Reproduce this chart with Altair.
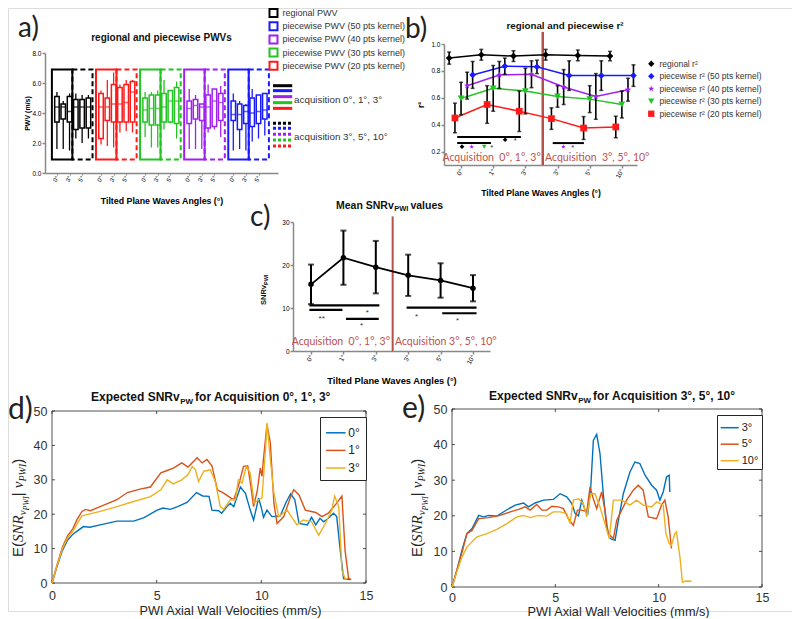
import altair as alt
import pandas as pd

FONT = "Liberation Sans"
SERIF = "Liberation Serif"
LAB = "Lato"
ACQ = "#c0504d"
SEP = "#b5504a"
INK = "#111111"
GREY = "#333333"
NB = "\u00a0"
VW, VH = 784, 603      # one view covering the page (page offset 8 px)
OFF = 8

ANGLES = ["0°", "1°", "3°", "3°", "5°", "10°"]

# ---------------- panel a : box plots ----------------
A_SERIES = ["regional PWV", "piecewise PWV (50 pts kernel)", "piecewise PWV (40 pts kernel)",
            "piecewise PWV (30 pts kernel)", "piecewise PWV (20 pts kernel)"]
A_COLORS = ["#000000", "#1a1aff", "#a020f0", "#22c322", "#ff1a1a"]
A_GROUPS = ["regional PWV", "piecewise PWV (20 pts kernel)", "piecewise PWV (30 pts kernel)",
            "piecewise PWV (40 pts kernel)", "piecewise PWV (50 pts kernel)"]
A_MIN = [[1.6, 1.6, 1.5, 2.3, 2.0, 2.3],
         [1.9, 1.8, 1.7, 2.7, 2.8, 2.7],
         [2.4, 1.7, 1.7, 2.9, 3.3, 2.3],
         [1.6, 1.6, 1.6, 2.7, 2.9, 2.4],
         [1.5, 1.6, 1.5, 2.1, 2.3, 2.5]]
A_Q1 = [[3.4, 3.6, 3.4, 2.9, 3.0, 3.0],
        [2.3, 3.5, 3.4, 3.4, 3.4, 3.4],
        [3.4, 3.2, 3.2, 3.4, 3.4, 3.3],
        [3.3, 3.6, 3.5, 3.0, 3.1, 3.5],
        [3.5, 2.9, 3.3, 3.1, 3.3, 3.6]]
A_MED = [[4.4, 4.4, 4.1, 4.4, 4.4, 4.4],
         [4.4, 4.4, 4.6, 4.6, 4.7, 5.4],
         [4.2, 4.3, 4.3, 4.4, 4.8, 4.8],
         [4.3, 4.5, 4.4, 4.4, 4.8, 4.7],
         [3.9, 3.9, 4.1, 4.0, 4.1, 4.2]]
A_Q3 = [[5.1, 4.6, 5.1, 4.9, 4.9, 5.0],
        [5.3, 5.0, 5.9, 5.7, 5.9, 6.1],
        [5.0, 5.2, 5.2, 5.3, 5.5, 5.7],
        [4.8, 4.9, 4.6, 5.2, 5.6, 5.3],
        [4.8, 4.6, 4.5, 5.0, 5.2, 5.3]]
A_MAX = [[5.4, 4.8, 5.3, 5.3, 5.2, 5.2],
         [5.5, 6.2, 6.7, 5.9, 6.2, 6.2],
         [5.4, 5.4, 5.5, 6.2, 5.5, 6.1],
         [5.6, 5.2, 4.6, 5.9, 5.6, 5.8],
         [5.3, 4.8, 4.6, 5.6, 5.2, 5.3]]
A_KEY_SOLID = [5.82, 5.49, 5.09, 4.69, 4.31]
A_KEY_DOTTED = [3.31, 2.98, 2.58, 2.20, 1.80]
A_KEY_TEXT = ["acquisition 0°, 1°, 3°", "acquisition 3°, 5°, 10°"]
A_KEY_TEXT_Y = [4.87, 2.42]

# ---------------- panel b : r2 ----------------
B_SERIES = ["regional r²", "piecewise r² (50 pts kernel)", "piecewise r² (40 pts kernel)",
            "piecewise r² (30 pts kernel)", "piecewise r² (20 pts kernel)"]
B_COLORS = ["#000000", "#1a1aff", "#a020f0", "#22c322", "#ff1a1a"]
STAR = "M0,-1L0.235,-0.324L0.951,-0.309L0.380,0.124L0.588,0.809L0,0.400L-0.588,0.809L-0.380,0.124L-0.951,-0.309L-0.235,-0.324Z"
B_SHAPES = ["diamond", "diamond", STAR, "triangle-down", "square"]
B_OFFSET = [-0.37, 0.36, 0.19, 0.0, -0.19]
B_MEAN = [[0.895, 0.92, 0.91, 0.92, 0.915, 0.91],
          [0.77, 0.835, 0.83, 0.765, 0.765, 0.765],
          [0.69, 0.77, 0.775, 0.68, 0.61, 0.66],
          [0.595, 0.67, 0.65, 0.61, 0.59, 0.55],
          [0.45, 0.55, 0.50, 0.445, 0.375, 0.383]]
B_ERR = [[0.045, 0.04, 0.04, 0.04, 0.04, 0.035],
         [0.10, 0.06, 0.05, 0.11, 0.11, 0.08],
         [0.10, 0.10, 0.10, 0.13, 0.17, 0.085],
         [0.12, 0.17, 0.17, 0.08, 0.10, 0.10],
         [0.11, 0.14, 0.15, 0.08, 0.085, 0.08]]
B_SIG_X0 = [-0.12, -0.12, 2.85]
B_SIG_X1 = [1.86, 0.93, 3.82]
B_SIG_Y = [0.308, 0.263, 0.263]
B_MARK_X = [0.03, 0.33, 0.72, 1.37, 3.18]
B_MARK_Y = [0.236, 0.236, 0.236, 0.288, 0.236]
B_MARK_S = [B_SERIES[0], B_SERIES[2], B_SERIES[3], B_SERIES[0], B_SERIES[2]]
B_STAR_X = [0.95, 1.68, 3.47]
B_STAR_Y = [0.245, 0.295, 0.245]

# ---------------- panel c : mean SNR ----------------
C_MEAN = [15.5, 21.7, 19.5, 17.6, 16.4, 14.6]
C_ERR = [4.6, 6.3, 6.1, 4.8, 4.0, 3.05]
C_SIG_X0 = [-0.05, -0.05, 1.08, 2.95, 4.05]
C_SIG_X1 = [2.11, 0.97, 2.09, 5.11, 5.11]
C_SIG_Y = [10.6, 9.56, 7.46, 10.1, 8.78]
C_STAR_X = [0.33, 1.74, 1.56, 3.26, 4.52]
C_STAR_Y = [8.0, 9.3, 6.2, 8.4, 7.4]
C_STAR_T = ["**", "*", "*", "*", "*"]

# ---------------- panels d / e : expected SNR curves ----------------
MATLAB = ["#0072BD", "#D95319", "#EDB120"]
D_LABELS = ["0°", "1°", "3°"]
D0_X = [0, 0.25, 0.5, 0.75, 1.0, 1.25, 1.5, 1.8, 2.3, 3.1, 3.9, 4.4, 5.0, 5.3, 5.65, 6.0, 6.45, 6.9, 7.2, 7.5,
        7.64, 7.96, 8.1, 8.36, 8.52, 8.68, 9.0, 9.24, 9.47, 9.63, 9.87, 10.03, 10.1, 10.27, 10.5, 10.9, 11.2,
        11.4, 11.6, 11.8, 12.2, 12.4, 12.6, 12.8, 12.98, 13.2, 13.45, 13.6, 13.77, 13.93, 14.25]
D0_Y = [0, 5, 9.5, 12.5, 14.2, 15.3, 16.4, 16.2, 16.9, 18.0, 18.0, 19.0, 21.1, 21.8, 21.4, 22.2, 23.4, 26.3, 25.3,
        25.2, 21.2, 21.0, 20.3, 22.2, 23.2, 22.2, 27.9, 26.1, 21.2, 18.3, 24.7, 21.2, 19.1, 21.2, 19.3, 19.5, 23.7,
        25.9, 24.2, 17.3, 16.9, 19.1, 16.9, 18.8, 17.8, 18.8, 20.3, 19.3, 9.5, 1.3, 1.0]
D1_X = [0, 0.25, 0.5, 0.75, 1.0, 1.2, 1.43, 1.6, 1.83, 2.3, 3.1, 3.6, 4.2, 4.7, 5.2, 5.5, 5.8, 6.2, 6.5, 6.77,
        6.93, 7.17, 7.4, 7.64, 7.9, 8.2, 8.5, 8.68, 8.9, 9.15, 9.35, 9.5, 9.63, 9.8, 9.95, 10.03, 10.1, 10.27,
        10.43, 10.6, 10.75, 11.07, 11.4, 11.55, 11.8, 12.1, 12.6, 12.9, 13.2, 13.6, 13.85, 14.0, 14.17, 14.3]
D1_Y = [0, 5.5, 10.5, 13.8, 15.8, 18.5, 20.8, 21.4, 21.0, 22.2, 24.2, 26.3, 27.3, 27.9, 32.0, 32.7, 33.4, 34.9,
        33.7, 35.4, 36.4, 34.9, 35.9, 34.1, 27.1, 26.1, 24.9, 24.2, 28.1, 33.9, 34.1, 28.1, 22.2, 26.6, 33.4,
        31.0, 35.9, 46.1, 40.7, 23.2, 17.3, 19.3, 25.1, 27.1, 25.6, 21.2, 20.5, 19.3, 20.3, 23.2, 25.3, 9.5, 1.3,
        1.0]
D3_X = [0, 0.25, 0.5, 0.75, 1.0, 1.2, 1.43, 2.3, 3.1, 3.9, 4.7, 5.2, 5.5, 5.8, 6.2, 6.5, 6.7, 6.85, 7.0, 7.25,
        7.56, 7.8, 8.04, 8.2, 8.52, 8.76, 8.9, 9.08, 9.28, 9.47, 9.66, 9.87, 10.03, 10.2, 10.27, 10.43, 10.6,
        10.83, 11.23, 11.55, 11.7, 12.0, 12.4, 12.74, 13.06, 13.37, 13.5, 13.7, 13.85, 14.0, 14.1]
D3_Y = [0, 5.2, 10.0, 13.2, 15.0, 17.2, 19.5, 20.8, 22.2, 23.7, 25.1, 27.1, 30.0, 28.8, 30.0, 31.5, 33.9, 32.9,
        29.5, 32.5, 32.9, 29.5, 22.2, 21.4, 24.2, 24.2, 30.0, 29.0, 33.9, 32.0, 23.2, 24.2, 24.7, 38.8, 46.6,
        35.9, 26.1, 19.3, 21.2, 18.3, 16.9, 18.3, 17.8, 13.9, 17.3, 21.2, 25.3, 22.2, 3.7, 1.3, 1.2]
E_LABELS = ["3°", "5°", "10°"]
E3_X = [0, 0.25, 0.48, 0.72, 0.97, 1.29, 1.53, 1.77, 2.17, 2.66, 3.06, 3.46, 3.7, 4.02, 4.43, 4.9, 5.23, 5.55,
        5.8, 5.96, 6.12, 6.28, 6.44, 6.57, 6.71, 6.84, 7.0, 7.16, 7.32, 7.48, 7.65, 7.89, 8.05, 8.29, 8.61, 8.85,
        9.09, 9.34, 9.66, 9.9, 10.06, 10.22, 10.38, 10.51, 10.54]
E3_Y = [0, 5, 10.3, 15.0, 16.4, 20.1, 19.7, 20.1, 19.9, 21.7, 23.0, 23.6, 22.5, 23.6, 24.4, 24.6, 26.2, 25.3,
        23.4, 20.6, 20.0, 24.4, 21.6, 20.6, 27.6, 41.2, 42.9, 37.5, 26.2, 16.9, 13.6, 13.1, 18.7, 26.2, 32.3,
        35.1, 34.7, 31.4, 28.6, 27.2, 24.4, 26.7, 30.9, 31.4, 26.7]
E5_X = [0, 0.25, 0.5, 0.72, 0.97, 1.29, 1.77, 2.33, 2.82, 3.22, 3.54, 3.78, 4.1, 4.35, 4.59, 4.83, 5.15, 5.39,
        5.63, 5.87, 6.07, 6.28, 6.52, 6.68, 6.81, 7.0, 7.24, 7.4, 7.56, 7.81, 7.97, 8.21, 8.45, 8.77, 9.01, 9.25,
        9.5, 9.9, 10.14, 10.3, 10.46, 10.62]
E5_Y = [0, 5, 10.0, 15.0, 15.9, 19.2, 19.5, 20.1, 21.1, 21.8, 22.5, 21.6, 23.2, 21.6, 21.6, 22.7, 22.5, 22.0,
        19.2, 17.3, 21.6, 21.6, 21.1, 28.1, 25.3, 22.0, 26.7, 21.6, 15.0, 13.6, 18.7, 21.6, 24.4, 27.2, 28.6,
        27.2, 19.7, 19.2, 23.0, 24.4, 19.7, 10.8]
E10_X = [0, 0.25, 0.48, 0.72, 1.21, 1.69, 2.17, 2.66, 3.14, 3.46, 3.78, 4.18, 4.59, 4.9, 5.23, 5.55, 5.71, 5.87,
         6.12, 6.36, 6.52, 6.71, 6.92, 7.16, 7.4, 7.61, 7.81, 8.21, 8.61, 8.93, 9.25, 9.66, 9.9, 10.22, 10.35,
         10.51, 10.62, 10.78, 10.86, 11.03, 11.15, 11.35, 11.59]
E10_Y = [0, 4.5, 8.4, 11.2, 14.1, 15.0, 16.2, 17.8, 19.7, 20.1, 19.5, 20.1, 19.9, 21.1, 21.1, 20.6, 17.8, 24.4,
         24.8, 23.4, 19.7, 26.2, 26.2, 22.5, 17.8, 13.6, 24.4, 24.4, 23.0, 24.4, 23.0, 22.5, 23.9, 23.0, 15.0,
         12.2, 11.7, 15.0, 15.5, 8.4, 1.4, 1.7, 1.6]

# ---------------- helpers ----------------
SANS = {' ': .278, NB: .278, 'a': .556, 'b': .556, 'c': .5, 'd': .556, 'e': .556, 'f': .278, 'i': .222,
        'k': .5, 'l': .222, 'm': .833, 'n': .556, 'o': .556, 'p': .556, 'q': .556, 'r': .333, 's': .5,
        't': .278, 'u': .556, 'v': .5, 'w': .722, 'x': .5, 'E': .667, 'P': .667, 'W': .944, 'I': .278,
        '(': .333, ')': .333, ',': .278, '°': .4, '|': .26}
BOLD = {' ': .278, NB: .278, 'a': .556, 'c': .556, 'd': .611, 'e': .556, 'f': .333, 'i': .278, 'l': .278,
        'n': .611, 'o': .611, 'p': .611, 'q': .611, 'r': .389, 's': .556, 't': .333, 'u': .611, 'v': .556,
        'x': .556, 'A': .722, 'E': .667, 'I': .278, 'M': .833, 'N': .722, 'P': .667, 'R': .722, 'S': .667,
        'W': .944, ',': .278, '°': .4}
SERIF_I = {'S': .5, 'N': .667, 'R': .611, 'v': .444, 'P': .611, 'W': .833, 'I': .333}


def tw(s, size, table):
    return sum(table.get(ch, 0.556) for ch in s) * size


one = pd.DataFrame({"k": [0]})


def txt(text, px, py, size, weight="normal", color=INK, align="left", baseline="middle", font=FONT,
        angle=0, style="normal"):
    """Annotation text placed at page pixel (px, py)."""
    props = dict(text=text, fontSize=size, fontWeight=weight, color=color, align=align,
                 baseline=baseline, font=font, fontStyle=style)
    if angle:
        props["angle"] = angle
    return alt.Chart(one).mark_text(**props).encode(x=alt.value(px - OFF), y=alt.value(py - OFF))


def seq_h(pieces, x0, y0):
    out, x = [], x0
    for text, size, weight, dy, gap in pieces:
        x += gap
        out.append(txt(text, x, y0 + dy, size, weight=weight, baseline="alphabetic"))
        x += tw(text, size, BOLD if weight == "bold" else SANS)
    return out


def seq_v(pieces, xb, y0, color=INK):
    out, y = [], y0
    for text, size, fam, style, weight, dx in pieces:
        out.append(txt(text, xb + dx, y, size, weight=weight, baseline="alphabetic", font=fam,
                       style=style, angle=270, color=color))
        table = SERIF_I if fam == SERIF else (BOLD if weight == "bold" else SANS)
        y -= tw(text, size, table)
    return out


def xrange_(left, width):
    return [left - OFF, left - OFF + width]


def yrange_(top, height):
    return [top - OFF + height, top - OFF]


angle_expr = "[" + ",".join("'%s'" % a for a in ANGLES) + "]"

# ================= panel a  (plot at page x 45, y 53, 233 x 120) =================
a_xs = alt.Scale(domain=[0, 35.4], range=xrange_(45, 233), nice=False, zero=False)
a_ys = alt.Scale(domain=[0, 8], range=yrange_(53, 120), nice=False, zero=False)
a_pos = [g * 7 + i + 1.1 for g in range(5) for i in range(6)]
a_xaxis = alt.Axis(orient="bottom", offset=(53 + 120 - OFF) - VH, values=a_pos, grid=False,
                   labelExpr=angle_expr + "[round(datum.value - 1.1) % 7]", labelAngle=300,
                   labelFontSize=6, labelPadding=1, tickSize=2, tickWidth=1, domainWidth=1.5,
                   labelOverlap=False, labelFlush=False, title="Tilted Plane Waves Angles (°)",
                   titleFontSize=8.8, titleFontWeight="bold", titleY=27, titleBaseline="middle")
a_yaxis = alt.Axis(orient="left", offset=-(45 - OFF), values=[0, 2, 4, 6, 8], grid=False, labelFontSize=6.5,
                   labelPadding=1, tickSize=3, tickWidth=1.5, domainWidth=1.5, labelOverlap=False,
                   labelFlush=False, title="PWV (m/s)", titleFontSize=7, titleFontWeight="bold",
                   titleX=-15, titleBaseline="bottom")
a_sc = alt.Scale(domain=A_SERIES, range=A_COLORS)


def AX(f):
    return alt.X(f + ":Q", scale=a_xs, axis=a_xaxis)


def AY(f):
    return alt.Y(f + ":Q", scale=a_ys, axis=a_yaxis)


a_rows = []
for g, name in enumerate(A_GROUPS):
    for i in range(6):
        a_rows.append({"series": name, "pos": g * 7 + i + 1.1, "lo": A_MIN[g][i], "q1": A_Q1[g][i],
                       "med": A_MED[g][i], "q3": A_Q3[g][i], "hi": A_MAX[g][i]})
a_df = pd.DataFrame(a_rows)
fr_rows = []
for g, name in enumerate(A_GROUPS):
    fr_rows.append({"series": name, "x0": g * 7 + 0.3, "x1": g * 7 + 3.55, "kind": "solid"})
    fr_rows.append({"series": name, "x0": g * 7 + 3.55, "x1": g * 7 + 6.75, "kind": "dashed"})
fr_df = pd.DataFrame(fr_rows)
key_df = pd.DataFrame({"series": A_SERIES * 2, "ky": A_KEY_SOLID + A_KEY_DOTTED,
                       "kind": ["solid"] * 5 + ["dotted"] * 5})
keyt_df = pd.DataFrame({"t": A_KEY_TEXT, "ky": A_KEY_TEXT_Y})

a_legend = alt.Legend(title=None, orient="none", legendX=268.5 - OFF, legendY=0, symbolType="square",
                      symbolSize=64, symbolStrokeWidth=2, symbolFillColor="white", labelFont=FONT,
                      labelFontSize=9, labelColor=GREY, rowPadding=-2.8, labelOffset=4, padding=0,
                      labelLimit=300)

a_layers = [
    alt.Chart(fr_df[fr_df.kind == "solid"]).mark_rect(fillOpacity=0, strokeWidth=2).encode(
        x=AX("x0"), x2="x1:Q", y=alt.datum(0.9), y2=alt.datum(6.9),
        stroke=alt.Stroke("series:N", scale=a_sc, legend=None)),
    alt.Chart(fr_df[fr_df.kind == "dashed"]).mark_rect(fillOpacity=0, strokeWidth=2, strokeDash=[5, 3]).encode(
        x=AX("x0"), x2="x1:Q", y=alt.datum(0.9), y2=alt.datum(6.9),
        stroke=alt.Stroke("series:N", scale=a_sc, legend=None)),
    alt.Chart(a_df).mark_rule(strokeWidth=1.3).encode(
        x=AX("pos"), y=AY("lo"), y2="hi:Q", stroke=alt.Stroke("series:N", scale=a_sc, legend=None)),
    alt.Chart(a_df).mark_bar(size=4.5, fill="white", strokeWidth=1.5).encode(
        x=AX("pos"), y=AY("q1"), y2="q3:Q", stroke=alt.Stroke("series:N", scale=a_sc, legend=a_legend)),
    alt.Chart(a_df).mark_tick(orient="horizontal", size=4.5, thickness=1.5).encode(
        x=AX("pos"), y=AY("med"), color=alt.Color("series:N", scale=a_sc, legend=None)),
    alt.Chart(key_df[key_df.kind == "solid"]).mark_rule(strokeWidth=3).encode(
        x=alt.datum(35.4), x2=alt.datum(38.45), y=AY("ky"),
        stroke=alt.Stroke("series:N", scale=a_sc, legend=None)),
    alt.Chart(key_df[key_df.kind == "dotted"]).mark_rule(strokeWidth=3, strokeDash=[3, 2]).encode(
        x=alt.datum(35.4), x2=alt.datum(38.45), y=AY("ky"),
        stroke=alt.Stroke("series:N", scale=a_sc, legend=None)),
    alt.Chart(keyt_df).mark_text(align="left", baseline="middle", fontSize=9.8, font=FONT, color=GREY).encode(
        x=alt.datum(38.75), y=AY("ky"), text="t:N"),
]
panel_a = alt.layer(*a_layers).resolve_scale(stroke="independent", color="independent")

# ================= panel b  (plot at page x 444, y 44, 193 x 121) =================
b_xs = alt.Scale(domain=[-0.53, 5.47], range=xrange_(444, 193), nice=False, zero=False)
b_ys = alt.Scale(domain=[0.1, 1.0], range=yrange_(44, 121), nice=False, zero=False)
b_xaxis = alt.Axis(orient="bottom", offset=(44 + 121 - OFF) - VH, values=[0, 1, 2, 3, 4, 5], grid=False,
                   labelExpr=angle_expr + "[datum.value]", labelAngle=300, labelFontSize=6.5, labelPadding=1,
                   tickSize=3, tickWidth=1.5, domainWidth=1.5, labelOverlap=False, labelFlush=False,
                   title="Tilted Plane Waves Angles (°)", titleFontSize=8.6, titleFontWeight="bold",
                   titleY=27, titleBaseline="middle")
b_yaxis = alt.Axis(orient="left", offset=-(444 - OFF), values=[0.2, 0.4, 0.6, 0.8, 1.0], format=".1f",
                   grid=False, labelFontSize=6.5, labelPadding=1, tickSize=3, tickWidth=1.5, domainWidth=1.5,
                   labelOverlap=False, labelFlush=False, title="r²", titleFontSize=8.5,
                   titleFontWeight="bold", titleX=-19, titleBaseline="bottom")
b_cs = alt.Scale(domain=B_SERIES, range=B_COLORS)
b_ss = alt.Scale(domain=B_SERIES, range=B_SHAPES)


def BX(f):
    return alt.X(f + ":Q", scale=b_xs, axis=b_xaxis)


def BY(f):
    return alt.Y(f + ":Q", scale=b_ys, axis=b_yaxis)


b_rows = []
for s, name in enumerate(B_SERIES):
    for c in range(6):
        m, e = B_MEAN[s][c], B_ERR[s][c]
        b_rows.append({"series": name, "x": c + B_OFFSET[s], "y": m, "lo": m - e, "hi": m + e})
b_df = pd.DataFrame(b_rows)
b_legend = alt.Legend(title=None, orient="none", legendX=647 - OFF, legendY=59.5 - OFF, labelFont=FONT,
                      labelFontSize=8.5, labelColor=GREY, symbolSize=40, rowPadding=3.5, labelOffset=4,
                      padding=0, labelLimit=300)
bsig_df = pd.DataFrame({"x0": B_SIG_X0, "x1": B_SIG_X1, "y": B_SIG_Y})
bmark_df = pd.DataFrame({"x": B_MARK_X, "y": B_MARK_Y, "series": B_MARK_S})
bstar_df = pd.DataFrame({"x": B_STAR_X, "y": B_STAR_Y, "t": ["*"] * 3})
bacq_df = pd.DataFrame({"x": [2.48, 2.61], "y": [0.15, 0.15],
                        "t": ["Acquisition" + NB + NB + "0°, 1°, 3°", "Acquisition" + NB + NB + "3°, 5°, 10°"]})

b_layers = [
    alt.Chart(one).mark_rule(color=SEP, strokeWidth=2.5).encode(
        x=alt.X(datum=2.54, scale=b_xs, axis=b_xaxis), y=alt.Y(datum=1.09, scale=b_ys, axis=b_yaxis),
        y2=alt.datum(0.1)),
    alt.Chart(b_df).mark_line(strokeWidth=1.5).encode(
        x=BX("x"), y=BY("y"), color=alt.Color("series:N", scale=b_cs, legend=None)),
    alt.Chart(b_df).mark_rule(color="black", strokeWidth=1.6).encode(x=BX("x"), y=BY("lo"), y2="hi:Q"),
    alt.Chart(b_df).mark_tick(orient="horizontal", size=4, thickness=1.5, color="black").encode(
        x=BX("x"), y=BY("lo")),
    alt.Chart(b_df).mark_tick(orient="horizontal", size=4, thickness=1.5, color="black").encode(
        x=BX("x"), y=BY("hi")),
    alt.Chart(b_df).mark_point(filled=True, opacity=1, size=45).encode(
        x=BX("x"), y=BY("y"), color=alt.Color("series:N", scale=b_cs, legend=b_legend),
        shape=alt.Shape("series:N", scale=b_ss, legend=b_legend)),
    alt.Chart(bsig_df).mark_rule(color="black", strokeWidth=2).encode(x=BX("x0"), x2="x1:Q", y=BY("y")),
    alt.Chart(bmark_df).mark_point(filled=True, opacity=1, size=22).encode(
        x=BX("x"), y=BY("y"), color=alt.Color("series:N", scale=b_cs, legend=None),
        shape=alt.Shape("series:N", scale=b_ss, legend=None)),
    alt.Chart(bstar_df).mark_text(fontSize=7.5, font=FONT, color=GREY, dy=2).encode(
        x=BX("x"), y=BY("y"), text="t:N"),
    alt.Chart(bacq_df.iloc[[0]]).mark_text(align="right", baseline="middle", fontSize=10.5, font=LAB,
                                          color=ACQ).encode(x=BX("x"), y=BY("y"), text="t:N"),
    alt.Chart(bacq_df.iloc[[1]]).mark_text(align="left", baseline="middle", fontSize=10.5, font=LAB,
                                          color=ACQ).encode(x=BX("x"), y=BY("y"), text="t:N"),
]
panel_b = alt.layer(*b_layers).resolve_scale(color="independent", shape="independent")

# ================= panel c  (plot at page x 293, y 222, 197 x 129) =================
c_xs = alt.Scale(domain=[-0.556, 5.525], range=xrange_(293, 197), nice=False, zero=False)
c_ys = alt.Scale(domain=[0, 30], range=yrange_(222, 129), nice=False, zero=False)
c_xaxis = alt.Axis(orient="bottom", offset=(222 + 129 - OFF) - VH, values=[0, 1, 2, 3, 4, 5], grid=False,
                   labelExpr=angle_expr + "[datum.value]", labelAngle=300, labelFontSize=6.5, labelPadding=1,
                   tickSize=3, tickWidth=1.5, domainWidth=1.5, labelOverlap=False, labelFlush=False,
                   title="Tilted Plane Waves Angles (°)", titleFontSize=9.3, titleFontWeight="bold",
                   titleY=29, titleBaseline="middle")
c_yaxis = alt.Axis(orient="left", offset=-(293 - OFF), values=[0, 10, 20, 30], grid=False, labelFontSize=6.5,
                   labelPadding=1, tickSize=3, tickWidth=1.5, domainWidth=1.5, labelOverlap=False,
                   labelFlush=False, title=None)


def CX(f):
    return alt.X(f + ":Q", scale=c_xs, axis=c_xaxis)


def CY(f):
    return alt.Y(f + ":Q", scale=c_ys, axis=c_yaxis)


c_df = pd.DataFrame({"x": list(range(6)), "y": C_MEAN,
                     "lo": [m - e for m, e in zip(C_MEAN, C_ERR)],
                     "hi": [m + e for m, e in zip(C_MEAN, C_ERR)]})
csig_df = pd.DataFrame({"x0": C_SIG_X0, "x1": C_SIG_X1, "y": C_SIG_Y})
cstar_df = pd.DataFrame({"x": C_STAR_X, "y": C_STAR_Y, "t": C_STAR_T})
cacq_df = pd.DataFrame({"x": [2.44, 2.59], "y": [2.2, 2.2],
                        "t": ["Acquisition" + NB + NB + "0°, 1°, 3°", "Acquisition 3°, 5°, 10°"]})
c_layers = [
    alt.Chart(one).mark_rule(color=SEP, strokeWidth=2).encode(
        x=alt.X(datum=2.52, scale=c_xs, axis=c_xaxis), y=alt.Y(datum=31.3, scale=c_ys, axis=c_yaxis),
        y2=alt.datum(0)),
    alt.Chart(c_df).mark_line(color="black", strokeWidth=1.8).encode(x=CX("x"), y=CY("y")),
    alt.Chart(c_df).mark_rule(color="black", strokeWidth=2).encode(x=CX("x"), y=CY("lo"), y2="hi:Q"),
    alt.Chart(c_df).mark_tick(orient="horizontal", size=6, thickness=2, color="black").encode(
        x=CX("x"), y=CY("lo")),
    alt.Chart(c_df).mark_tick(orient="horizontal", size=6, thickness=2, color="black").encode(
        x=CX("x"), y=CY("hi")),
    alt.Chart(c_df).mark_point(filled=True, opacity=1, size=30, color="black").encode(x=CX("x"), y=CY("y")),
    alt.Chart(csig_df).mark_rule(color="black", strokeWidth=2.2).encode(x=CX("x0"), x2="x1:Q", y=CY("y")),
    alt.Chart(cstar_df).mark_text(fontSize=8, font=FONT, color=GREY, dy=2).encode(
        x=CX("x"), y=CY("y"), text="t:N"),
    alt.Chart(cacq_df.iloc[[0]]).mark_text(align="right", baseline="middle", fontSize=10.5, font=LAB,
                                          color=ACQ).encode(x=CX("x"), y=CY("y"), text="t:N"),
    alt.Chart(cacq_df.iloc[[1]]).mark_text(align="left", baseline="middle", fontSize=10.5, font=LAB,
                                          color=ACQ).encode(x=CX("x"), y=CY("y"), text="t:N"),
]
panel_c = alt.layer(*c_layers)


# ================= panels d / e =================
def matlab_panel(series_x, series_y, labels, left, top, W, H, legend_px, legend_py, legend_pad, leg_font,
                 leg_sym, leg_row, xlabel_pad, xtitle_px, xtitle_y):
    xs = alt.Scale(domain=[0, 15], range=xrange_(left, W), nice=False, zero=False)
    ys = alt.Scale(domain=[0, 50], range=yrange_(top, H), nice=False, zero=False)
    xaxis = alt.Axis(orient="bottom", offset=(top + H - OFF) - VH, values=[0, 5, 10, 15], domain=False,
                     ticks=False, grid=False, labelFontSize=12.5, labelPadding=xlabel_pad, labelColor=GREY,
                     labelOverlap=False, labelFlush=False, title="PWI Axial Wall Velocities (mm/s)",
                     titleFontSize=12.7, titleFontWeight="normal", titleColor="#262626", titleY=xtitle_y,
                     titleX=xtitle_px - OFF, titleBaseline="middle")
    yaxis = alt.Axis(orient="left", offset=-(left - OFF), values=[0, 10, 20, 30, 40, 50], domain=False,
                     ticks=False, grid=False, labelFontSize=12.5, labelPadding=5, labelColor=GREY,
                     labelOverlap=False, labelFlush=False, title=None)
    rows = []
    for lab, xv, yv in zip(labels, series_x, series_y):
        for i, (a, b) in enumerate(zip(xv, yv)):
            rows.append({"series": lab, "x": a, "y": b, "i": i})
    df = pd.DataFrame(rows)
    leg = alt.Legend(title=None, orient="none", legendX=legend_px - OFF, legendY=legend_py - OFF,
                     symbolType="stroke", symbolSize=leg_sym, symbolStrokeWidth=1.5, labelFontSize=leg_font,
                     labelFont=FONT, labelColor="#222222", fillColor="white", strokeColor="#262626",
                     padding=legend_pad, rowPadding=leg_row, labelOffset=2, cornerRadius=0)
    xt = pd.DataFrame({"t": [0, 5, 10, 15]})
    yt = pd.DataFrame({"t": [0, 10, 20, 30, 40, 50]})
    bot, tp, lf, rt = top + H - OFF, top - OFF, left - OFF, left - OFF + W
    X = lambda f: alt.X(f, scale=xs, axis=xaxis)
    Y = lambda f: alt.Y(f, scale=ys, axis=yaxis)
    layers = [
        alt.Chart(one).mark_rect(fillOpacity=0, stroke="#262626", strokeWidth=0.8).encode(
            x=alt.X(datum=0, scale=xs, axis=xaxis), x2=alt.datum(15),
            y=alt.Y(datum=0, scale=ys, axis=yaxis), y2=alt.datum(50)),
        alt.Chart(xt).mark_rule(color="#262626", strokeWidth=0.8).encode(
            x=X("t:Q"), y=alt.value(bot), y2=alt.value(bot - 3)),
        alt.Chart(xt).mark_rule(color="#262626", strokeWidth=0.8).encode(
            x=X("t:Q"), y=alt.value(tp), y2=alt.value(tp + 3)),
        alt.Chart(yt).mark_rule(color="#262626", strokeWidth=0.8).encode(
            y=Y("t:Q"), x=alt.value(lf), x2=alt.value(lf + 3)),
        alt.Chart(yt).mark_rule(color="#262626", strokeWidth=0.8).encode(
            y=Y("t:Q"), x=alt.value(rt), x2=alt.value(rt - 3)),
        alt.Chart(df).mark_line(strokeWidth=1.4).encode(
            x=X("x:Q"), y=Y("y:Q"),
            color=alt.Color("series:N", scale=alt.Scale(domain=labels, range=MATLAB), legend=leg),
            order="i:Q"),
    ]
    return alt.layer(*layers)


panel_d = matlab_panel([D0_X, D1_X, D3_X], [D0_Y, D1_Y, D3_Y], D_LABELS, 52, 411, 314, 172,
                       320, 417, 5.3, 12, 380, 0.6, 6, 230, 27)
panel_e = matlab_panel([E3_X, E5_X, E10_X], [E3_Y, E5_Y, E10_Y], E_LABELS, 452, 409, 310, 178,
                       717, 415, 2.7, 11, 324, 1.5, 4, 618, 24)

# ================= free annotations (titles, panel letters, composite axis titles) =================
notes = [
    txt("regional and piecewise PWVs", 161.5, 38, 10, weight="bold", align="center"),
    txt("a)", 18, 29, 28, font=LAB, color="#222222"),
    txt("regional and piecewise r²", 565, 26, 9.8, weight="bold", align="center"),
    txt("b)", 405, 30, 28, font=LAB, color="#222222"),
    txt("c)", 250, 218, 28, font=LAB, color="#222222"),
    txt("d)", 8, 410, 30, font=LAB, color="#222222"),
    txt("e)", 402, 409, 30, font=LAB, color="#222222"),
]
notes += seq_h([("Mean SNRv", 10.5, "bold", 0, 0), ("PWI", 7.5, "bold", 2.5, 0.5),
                (NB + "values", 10.5, "bold", 0, 2)], 336, 208.5)
notes += seq_v([("SNRv", 7.5, FONT, "normal", "bold", 0), ("PWI", 5.5, FONT, "normal", "bold", 2)], 265.6, 305)
notes += seq_h([("Expected SNRv", 12, "bold", 0, 0), ("PW", 8, "bold", 3, 0.5),
                (NB + "for Acquisition 0°, 1°, 3°", 12, "bold", 0, 2)], 91, 401.2)
notes += seq_h([("Expected SNRv", 12, "bold", 0, 0), ("PW", 8, "bold", 3, 0.5),
                (NB + "for Acquisition 3°, 5°, 10°", 12, "bold", 0, 2)], 489, 400.2)
YLAB = [("E(", 15, FONT, "normal", "normal", 0), ("SNR", 15, SERIF, "italic", "normal", 0),
        ("v", 11, SERIF, "italic", "normal", 3), ("PWI", 8, SERIF, "italic", "normal", 6),
        (NB + "|", 15, FONT, "normal", "normal", 0), ("v", 15, SERIF, "italic", "normal", 0),
        ("PWI", 10, SERIF, "italic", "normal", 3.5), (")", 15, FONT, "normal", "normal", 0)]
notes += seq_v(YLAB, 22.5, 557, color="#262626")
notes += seq_v(YLAB, 421.5, 557, color="#262626")
panel_notes = alt.layer(*notes)

RS = dict(x="independent", y="independent", color="independent", stroke="independent", shape="independent")
chart = alt.layer(panel_a, panel_b, panel_c, panel_d, panel_e, panel_notes).resolve_scale(**RS).resolve_axis(
    x="independent", y="independent").resolve_legend(color="independent", stroke="independent",
                                                     shape="independent").properties(
    width=VW, height=VH, padding=0).configure_view(stroke="transparent").configure_axis(
    grid=False, domainColor="#000000", tickColor="#000000", labelFont=FONT, titleFont=FONT,
    labelColor=GREY, titleColor=INK).configure(font=FONT)

chart.save("out.html", embed_options={"renderer": "svg", "actions": False})
